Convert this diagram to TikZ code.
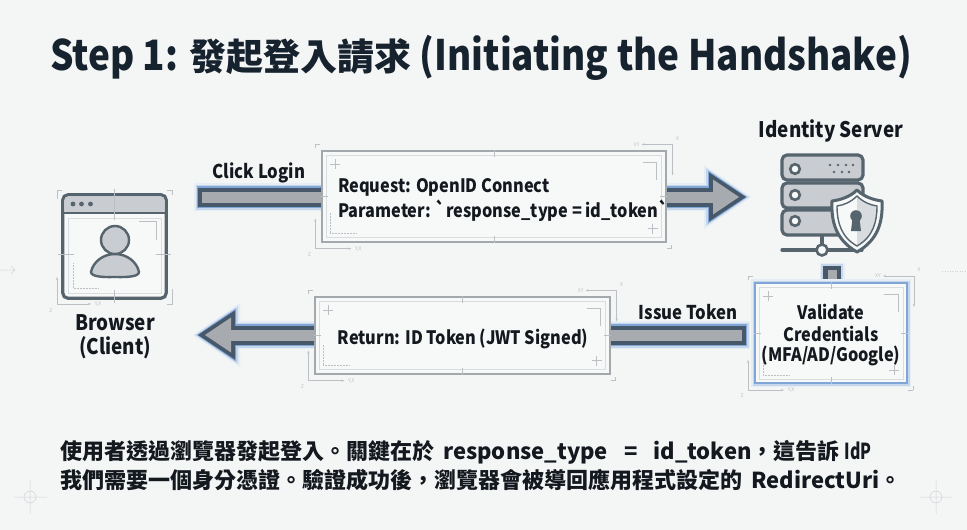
\documentclass[tikz,border=0pt]{standalone}
\usepackage{fontspec}
\setmainfont{Noto Sans CJK TC}
\newfontfamily\latn[FakeStretch=0.88]{Noto Sans CJK TC}
\usetikzlibrary{arrows.meta}
\definecolor{bgc}{HTML}{F4F5F5}
\definecolor{ink}{HTML}{14191F}
\definecolor{titleink}{HTML}{16222E}
\definecolor{iconline}{HTML}{56646E}
\definecolor{iconfill}{HTML}{C9CDD1}
\definecolor{arrowdark}{HTML}{46586A}
\definecolor{arrowgray}{HTML}{A7ABAF}
\definecolor{glowa}{HTML}{E6EDF5}
\definecolor{glowb}{HTML}{C6D7EB}
\definecolor{glowc}{HTML}{7FA6D6}
\definecolor{boxline}{HTML}{A3A8AD}
\definecolor{boxinner}{HTML}{DADDDF}
\definecolor{boxfill}{HTML}{F7F8F8}
\definecolor{deco}{HTML}{BCC0C5}
\definecolor{bluebox}{HTML}{7FA6D6}
\tikzset{
  x=1pt,y=-1pt,
  lbl/.style={font=\latn\fontsize{18.5}{22}\selectfont\bfseries,text=ink,inner sep=0pt,align=center},
  edgelbl/.style={lbl,font=\latn\fontsize{19}{22}\selectfont\bfseries},
  iconlbl/.style={lbl,font=\latn\fontsize{21.4}{24}\selectfont\bfseries},
  panel/.style={draw=boxline,line width=1.3pt,fill=boxfill,inner sep=0pt},
  glowpanel/.style={draw=bluebox,line width=2pt,fill=boxfill,inner sep=0pt,
     preaction={draw=glowa,line width=8pt},preaction={draw=glowb,line width=5pt}},
  decoline/.style={draw=deco,line width=.5pt},
  decotext/.style={font=\fontsize{5}{6}\selectfont,text=deco,inner sep=0pt},
  iconstroke/.style={draw=iconline,line width=3.2pt,line join=round},
  captionlbl/.style={inner sep=0pt,anchor=west,text=ink,font=\fontsize{22}{28}\selectfont\bfseries},
}
% layered connector with an arrow head
\newcommand{\flowarrow}[2]{%
  \draw[glowa,line width=28pt,shorten <=-4pt,shorten >=-5pt,-{Triangle[length=47pt,width=64pt,line width=0pt]}] (#1) -- (#2);
  \draw[glowb,line width=25pt,shorten <=-2.5pt,shorten >=-3pt,-{Triangle[length=43pt,width=58pt,line width=0pt]}] (#1) -- (#2);
  \draw[glowc,line width=22pt,shorten <=-1pt,shorten >=-1pt,-{Triangle[length=39pt,width=53pt,line width=0pt]}] (#1) -- (#2);
  \draw[arrowdark,line width=19pt,-{Triangle[length=37pt,width=49pt,line width=0pt]}] (#1) -- (#2);
  \draw[arrowgray,line width=11pt,shorten <=4pt,shorten >=7pt,-{Triangle[length=26pt,width=35pt,line width=0pt]}] (#1) -- (#2);
}
% blueprint ornaments of a panel
\newcommand{\panelornaments}[1]{%
  \draw[boxinner,line width=1pt] ([shift={(5,5)}]#1.north west) rectangle ([shift={(-5,-5)}]#1.south east);
  \draw[decoline] ([shift={(-6,-6)}]#1.north west) -- +(0,4) ([shift={(-6,-6)}]#1.north west) -- +(5,0);
  \draw[decoline] ([shift={(5,6)}]#1.south east) -- +(0,-4) ([shift={(5,6)}]#1.south east) -- +(-5,0);
  % inner L marks
  \draw[decoline] ([shift={(-24,12)}]#1.north east) -- ([shift={(-10,12)}]#1.north east) -- ([shift={(-10,30)}]#1.north east);
  \draw[decoline,densely dotted] ([shift={(9,-30)}]#1.south west) -- ([shift={(9,-9)}]#1.south west) -- ([shift={(35,-9)}]#1.south west);
  % sparks
  \draw[decoline] ([shift={(14,9)}]#1.north west) -- +(0,10) ([shift={(9,14)}]#1.north west) -- +(10,0);
  \draw[decoline] ([shift={(-14,-19)}]#1.south east) -- +(0,10) ([shift={(-19,-14)}]#1.south east) -- +(10,0);
  % centre ticks
  \draw[decoline] (#1.north) -- +(0,7) (#1.south) -- +(0,-7) (#1.west) -- +(7,0) (#1.east) -- +(-7,0);
  % axes
  \draw[decoline,-{Stealth[length=3pt]}] ([shift={(-6,6)}]#1.south west) -- ([shift={(-6,-24)}]#1.south west);
  \draw[decoline,-{Stealth[length=3pt]}] ([shift={(-6,6)}]#1.south west) -- ([shift={(30,6)}]#1.south west);
  \node[decotext] at ([shift={(37,6)}]#1.south west) {Y,X};
  \node[decotext] at ([shift={(-12,12)}]#1.south west) {Z};
  \draw[decoline,-{Stealth[length=3pt]}] ([shift={(6,-6)}]#1.north east) -- ([shift={(-25,-6)}]#1.north east);
  \draw[decoline,-{Stealth[length=3pt]}] ([shift={(6,-6)}]#1.north east) -- ([shift={(6,25)}]#1.north east);
  \node[decotext] at ([shift={(-30,-6)}]#1.north east) {XY};
  \node[decotext] at ([shift={(11,-12)}]#1.north east) {X};
}
\begin{document}
\begin{tikzpicture}
\useasboundingbox (0,0) rectangle (967,530);
\fill[bgc] (0,0) rectangle (967,530);

% faint background marks
\draw[decoline,draw=deco!70] (0,270) -- (15,270) (11,266) -- (15,270) -- (11,274);
\draw[decoline,draw=deco!70] (14,497) -- (47,497) (30,480) -- (30,514) (30,497) circle (6);
\draw[decoline,draw=deco!70] (920,497) -- (952,497) (936,480) -- (936,514) (936,497) circle (6);
\draw[decoline,draw=deco!70,dotted] (942,271) -- (967,271);

% title
\node[inner sep=0pt,text=titleink,font=\latn\fontsize{41.9}{48}\selectfont\bfseries] (title) at (481,58) {Step 1: {\normalfont\bfseries\fontsize{37}{48}\selectfont 發起登入請求} (Initiating the Handshake)};

% connector anchors
\coordinate (clickstart) at (198,197);
\coordinate (serverin) at (746,197);
\coordinate (issuestart) at (746,335);
\coordinate (browserin) at (198,335);
\coordinate (linktop) at (832,266);
\coordinate (linkbot) at (832,284);

% connectors under panels
\flowarrow{clickstart}{serverin}
\flowarrow{issuestart}{browserin}
\draw[glowa,line width=25pt] ([yshift=3pt]linktop) -- (linkbot);
\draw[glowb,line width=22pt] ([yshift=2pt]linktop) -- (linkbot);
\draw[arrowdark,line width=18pt] (linktop) -- (linkbot);
\draw[arrowgray,line width=9pt] ([yshift=-4pt]linktop) -- (linkbot);

% panels
\node[panel,minimum width=344pt,minimum height=91pt] (req) at (494,196.5) {};
\panelornaments{req}
\node[lbl,anchor=west] (reqa) at (338,187.5) {Request: OpenID Connect};
\node[lbl,anchor=west] (reqb) at (338,210.5) {Parameter: `response\_type = id\_token`};

\node[panel,minimum width=295pt,minimum height=77pt] (ret) at (462.5,335.5) {};
\panelornaments{ret}
\node[lbl] (retl) at (463,339) {Return: ID Token (JWT Signed)};

\node[glowpanel,minimum width=152pt,minimum height=100pt] (val) at (831,333) {};
\panelornaments{val}
\node[lbl] (vala) at (831,312) {Validate};
\node[lbl] (valb) at (831,334) {Credentials};
\node[lbl] (valc) at (831,356) {(MFA/AD/Google)};

% edge labels
\node[edgelbl] (click) at (259,172.5) {Click Login};
\node[edgelbl] (issue) at (688,312) {Issue Token};

% browser icon
\node[draw=none,minimum width=103pt,minimum height=103pt,inner sep=0pt] (browser) at (114.5,246.5) {};
\draw[iconstroke,fill=boxfill,rounded corners=5pt] (browser.north west) rectangle (browser.south east);
\fill[iconfill,rounded corners=4pt] ([shift={(1.5,1.5)}]browser.north west) rectangle ([shift={(-1.5,18)}]browser.north east);
\draw[iconline,line width=2.6pt] (63,213) -- (166,213);
\draw[boxinner,line width=1pt] (68,218) rectangle (161,293);
\fill[iconline] (73,204) circle (2.4) (81.5,204) circle (2.4) (90.5,204) circle (2.4);
\draw[decoline] (57,199) -- (57,190) -- (62,190) (172,289) -- (172,304) -- (167,304) (167,190) -- (172,190) -- (172,195);
\draw[decoline] (139,221) -- (156,221) -- (156,240);
\draw[decoline,densely dotted] (73,263) -- (73,288) -- (99,288);
\draw[decoline] (114.5,189) -- (114.5,220) (114.5,290) -- (114.5,303) (58,254) -- (74,254) (156,254) -- (171,254);
\draw[decoline,-{Stealth[length=3pt]}] (57,304) -- (57,277);
\draw[decoline,-{Stealth[length=3pt]}] (57,304) -- (91,304);
\node[decotext] at (98,304) {Y,X};
\node[decotext] at (51,311) {Z};
\draw[draw=iconline,line width=2.4pt,fill=iconfill] (91,272) .. controls (93,262) and (103,254) .. (115,254) .. controls (127,254) and (137,262) .. (139,272) .. controls (139,278) and (120,277) .. (115,277) .. controls (110,277) and (91,278) .. (91,272) -- cycle;
\draw[draw=iconline,line width=2.4pt,fill=iconfill] (115,240) circle (14);
\node[iconlbl] (brlabel) at (115,322.5) {Browser};
\node[iconlbl] (brlabelb) at (115,347.5) {(Client)};

% server icon
\node[iconlbl] (srvlabel) at (831,131) {Identity Server};
\node[inner sep=0pt,minimum width=80pt,minimum height=80pt] (server) at (822,195) {};
\foreach \rt/\rb in {155/180,183/208,210/235}{
  \draw[iconstroke,fill=iconfill,rounded corners=5pt] (782,\rt) rectangle (863,\rb);
}
\foreach \hy in {169,195,221}{
  \draw[draw=iconline,line width=2.6pt,fill=boxfill] (795,\hy) circle (4.8);
}
\fill[iconline] (830,165) circle (1.3) (838,165) circle (1.3) (846,165) circle (1.3) (853,165) circle (1.3)
  (834,172) circle (1.3) (842,172) circle (1.3) (849,172) circle (1.3);
\draw[draw=iconline,line width=3.2pt] (822,235) -- (822,244);
\draw[draw=iconline,line width=3.2pt,line cap=round] (782,250) -- (862,250);
\draw[draw=iconline,line width=2.6pt,fill=boxfill] (822,250) circle (5.5);
% shield
\draw[draw=iconline,line width=3pt,fill=boxfill,line join=round]
  (857,190) .. controls (864,197) and (874,200) .. (882,201)
  .. controls (883,222) and (878,240) .. (857,252)
  .. controls (836,240) and (831,222) .. (832,201)
  .. controls (840,200) and (850,197) .. (857,190) -- cycle;
\fill[iconfill!70] (857,197) .. controls (863,202) and (870,205) .. (877,206)
  .. controls (877,222) and (873,237) .. (857,246) -- cycle;
\draw[draw=iconline,line width=1.4pt,line join=round]
  (857,196) .. controls (863,202) and (870,205) .. (877,206)
  .. controls (877,222) and (873,237) .. (857,246)
  .. controls (841,237) and (837,222) .. (837,206)
  .. controls (844,205) and (851,202) .. (857,196) -- cycle;
\fill[iconline] (856,216) circle (5.8);
\fill[iconline] (852.5,218) -- (859.5,218) -- (861,231) -- (851,231) -- cycle;

% caption
\node[captionlbl] (capa) at (60,452) {使用者透過瀏覽器發起登入。關鍵在於\hspace{4pt} response\_type\hspace{11pt} = \hspace{11pt}id\_token，這告訴 \scalebox{.72}[1]{IdP}};
\node[captionlbl] (capb) at (60,480) {我們需要一個身分憑證。驗證成功後，瀏覽器會被導回應用程式設定的\hspace{4pt} RedirectUri。};
\end{tikzpicture}
\end{document}
